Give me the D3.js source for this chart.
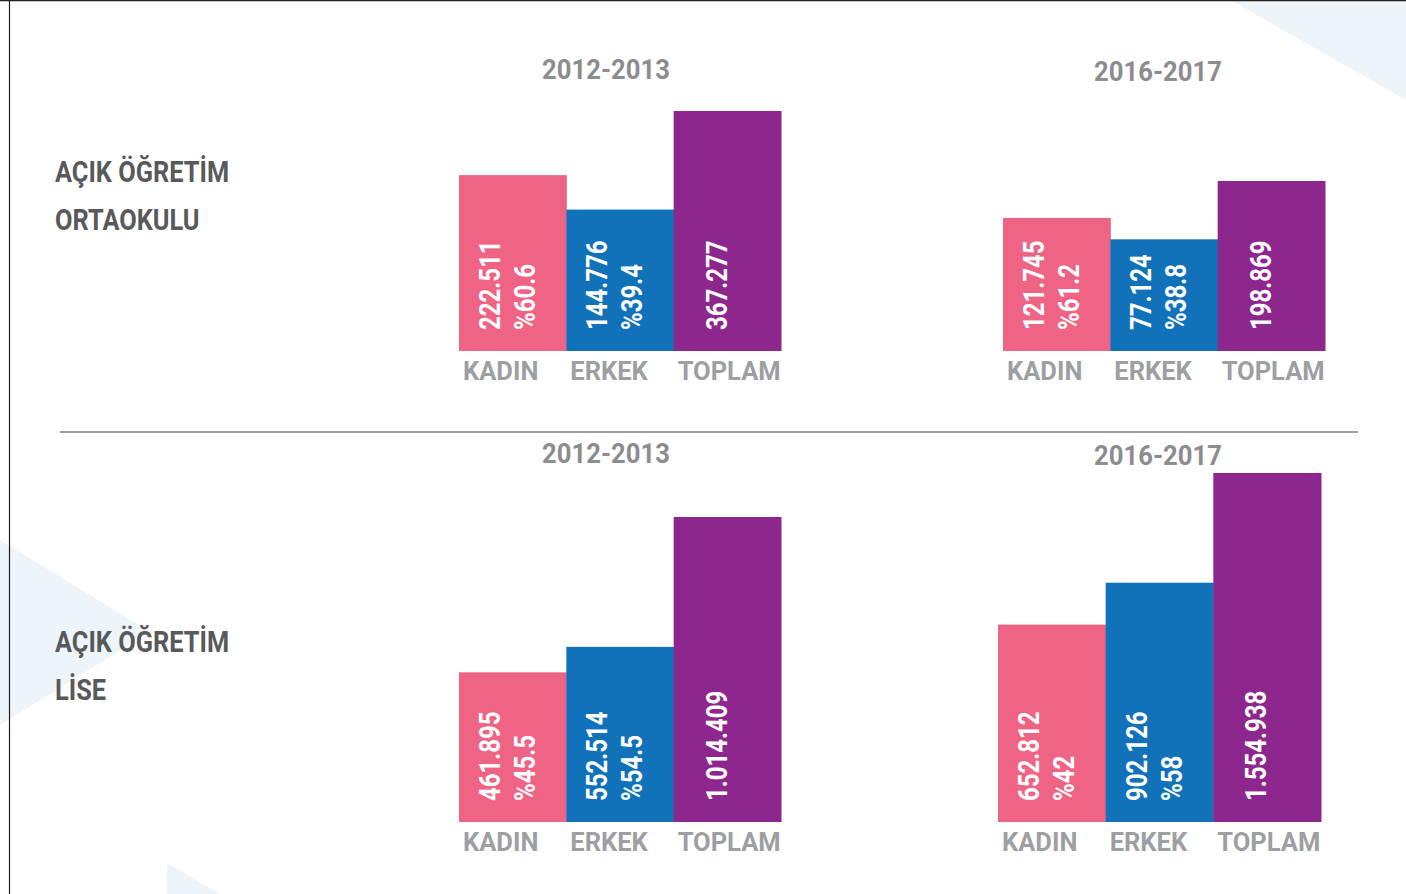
<!DOCTYPE html>
<html>
<head>
<meta charset="utf-8">
<script src="https://cdn.jsdelivr.net/npm/d3@7"></script>
<style>
  html, body { margin: 0; padding: 0; background: #fff; }
  svg { display: block; }
</style>
</head>
<body>
<div id="chart"></div>
<script>
// ---- data ----
const categories = ["KADIN", "ERKEK", "TOPLAM"]
const periods = ["2012-2013", "2016-2017"]
const levelNames = [["AÇIK ÖĞRETİM", "ORTAOKULU"], ["AÇIK ÖĞRETİM", "LİSE"]]

const ortaokul2012 = [222511, 144776, 367277]
const ortaokul2016 = [121745, 77124, 198869]
const lise2012 = [461895, 552514, 1014409]
const lise2016 = [652812, 902126, 1554938]

const ortaokul2012Pct = [60.6, 39.4]
const ortaokul2016Pct = [61.2, 38.8]
const lise2012Pct = [45.5, 54.5]
const lise2016Pct = [42, 58]

// ---- layout ----
const WIDTH = 1406
const HEIGHT = 894
const COLORS = ["#ef6385", "#1172b9", "#8e278d"]
const FONT = "Roboto, 'DejaVu Sans', sans-serif"
// the original uses a condensed DIN face, so Roboto is squeezed horizontally
const NARROW = 0.8

// each panel: band range, baseline, scale floor and max bar height
const panels = [
  { values: ortaokul2012, pct: ortaokul2012Pct, period: periods[0], x0: 459, x1: 781, base: 351, floor: -174400, maxH: 240, titleX: 606, titleY: 79 },
  { values: ortaokul2016, pct: ortaokul2016Pct, period: periods[1], x0: 1003, x1: 1325, base: 351, floor: -156000, maxH: 170, titleX: 1158, titleY: 81 },
  { values: lise2012, pct: lise2012Pct, period: periods[0], x0: 459, x1: 781, base: 822, floor: -70400, maxH: 305, titleX: 606, titleY: 463 },
  { values: lise2016, pct: lise2016Pct, period: periods[1], x0: 998, x1: 1321, base: 822, floor: -521700, maxH: 349, titleX: 1158, titleY: 465 },
]

const levelLabels = [
  { lines: levelNames[0], x: 55, y: 182 },
  { lines: levelNames[1], x: 55, y: 652 },
]

const trFormat = d3.formatLocale({ decimal: ".", thousands: ".", grouping: [3], currency: ["", ""] })
const numFmt = trFormat.format(",")
const pctFmt = d3.format(".1~f")

const svg = d3.select("#chart")
              .append("svg")
              .attr("width", WIDTH)
              .attr("height", HEIGHT)
              .style("font-family", FONT)
              .style("font-weight", "bold")

// background decoration
const bgTriangles = [
  [[1230, 0], [1406, 0], [1406, 100]],
  [[0, 540], [150, 632], [0, 725]],
  [[167, 863], [220, 894], [167, 894]],
]
svg.selectAll("polygon.bg")
   .data(bgTriangles)
   .enter()
   .append("polygon")
   .attr("class", "bg")
   .attr("points", d => d.map(p => p.join(",")).join(" "))
   .attr("fill", "#edf4fa")

// frame
svg.append("line")
   .attr("x1", 0).attr("x2", WIDTH).attr("y1", 0.5).attr("y2", 0.5)
   .attr("stroke", "#222").attr("stroke-width", 1.5)
svg.append("line")
   .attr("x1", 9.5).attr("x2", 9.5).attr("y1", 0).attr("y2", HEIGHT)
   .attr("stroke", "#222").attr("stroke-width", 1.2)

// divider
svg.append("line")
   .attr("x1", 60).attr("x2", 1358).attr("y1", 432).attr("y2", 432)
   .attr("stroke", "#7f7f7f").attr("stroke-width", 1.5)

// row labels
levelLabels.forEach(l => {
  svg.append("g")
     .selectAll("text")
     .data(l.lines)
     .enter()
     .append("text")
     .attr("transform", (d, i) => `translate(${l.x}, ${l.y + i * 48}) scale(0.86, 1)`)
     .attr("fill", "#58595b")
     .style("font-size", "29.5px")
     .text(d => d)
})

panels.forEach(drawPanel)

function drawPanel(p) {
  const g = svg.append("g")

  const x = d3.scaleBand()
              .domain(categories)
              .range([p.x0, p.x1])
              .padding(0)

  const y = d3.scaleLinear()
              .domain([p.floor, d3.max(p.values)])
              .range([p.base, p.base - p.maxH])

  const rows = categories.map((c, i) => ({ cat: c, value: p.values[i], pct: p.pct[i], color: COLORS[i] }))

  g.append("text")
   .attr("transform", `translate(${p.titleX}, ${p.titleY}) scale(0.95, 1)`)
   .attr("text-anchor", "middle")
   .attr("fill", "#8c8c8f")
   .style("font-size", "27px")
   .text(p.period)

  g.selectAll("rect")
   .data(rows)
   .enter()
   .append("rect")
   .attr("x", d => x(d.cat))
   .attr("width", x.bandwidth() + 0.5)
   .attr("y", d => y(d.value))
   .attr("height", d => p.base - y(d.value))
   .attr("fill", d => d.color)

  // category labels under the bars
  g.selectAll("text.cat")
   .data(rows)
   .enter()
   .append("text")
   .attr("class", "cat")
   .attr("x", d => x(d.cat) + 4)
   .attr("y", p.base + 29)
   .attr("fill", "#9d9fa2")
   .style("font-size", "25.5px")
   .text(d => d.cat)

  // rotated numbers inside the bars
  const inner = g.selectAll("g.inner")
                 .data(rows)
                 .enter()
                 .append("g")
                 .attr("class", "inner")
                 .attr("fill", "#fff")
                 .style("font-size", "30px")

  inner.append("text")
       .attr("transform", d => `translate(${x(d.cat) + (d.pct === undefined ? 53 : 41)}, ${p.base - 21}) rotate(-90) scale(${NARROW}, 1)`)
       .text(d => numFmt(d.value))

  inner.filter(d => d.pct !== undefined)
       .append("text")
       .attr("transform", d => `translate(${x(d.cat) + 76}, ${p.base - 21}) rotate(-90) scale(${NARROW}, 1)`)
       .text(d => "%" + pctFmt(d.pct))
}
</script>
</body>
</html>
